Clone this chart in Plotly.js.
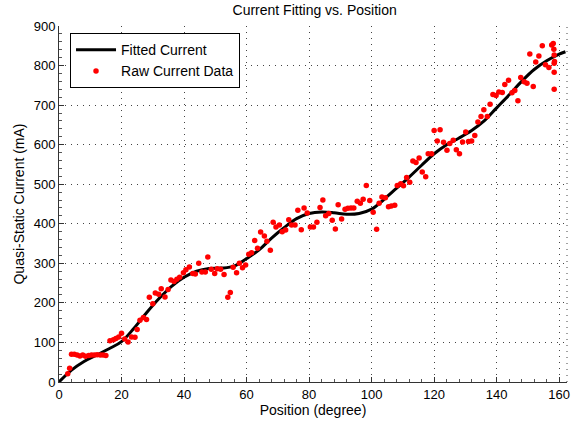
<!DOCTYPE html>
<html>
<head>
<meta charset="utf-8">
<script src="https://cdn.plot.ly/plotly-3.0.1.min.js"></script>
<style>
  html, body { margin: 0; padding: 0; background: #fff; }
  #chart { width: 571px; height: 426px; }
</style>
</head>
<body>
<div id="chart"></div>
<script>
// Measured current samples (position in degrees, current in mA)
const rawPosition = [
  2.8, 3.4, 4.0, 4.9, 5.8, 6.7, 7.6, 8.5, 9.5, 10.4, 11.3, 12.2, 13.2, 14.1, 15.0,
  16.3, 17.4, 18.2, 19.1, 20.0, 21.0, 22.1, 23.2, 24.3, 25.0, 25.9, 27.0, 28.0, 28.9, 30.0,
  30.8, 31.9, 32.7, 33.9, 34.9, 35.8, 36.8, 37.7, 38.6, 39.8, 40.6, 41.7, 42.8, 43.6, 44.7,
  45.7, 46.8, 47.6, 48.7, 49.8, 50.6, 51.7, 52.8, 54.0, 54.8, 55.7, 56.8, 57.7, 58.7, 59.7,
  60.7, 61.6, 62.6, 63.5, 64.5, 65.7, 66.5, 67.6, 68.5, 69.4, 70.5, 71.4, 72.5, 73.5, 74.4,
  75.5, 76.4, 77.5, 78.4, 79.4, 80.4, 81.4, 82.5, 83.5, 84.4, 85.3, 86.3, 87.4, 88.4, 89.3,
  90.4, 91.5, 92.4, 93.4, 94.3, 95.4, 96.4, 97.3, 98.3, 99.4, 100.5, 101.6, 102.4, 103.3, 104.4,
  105.4, 106.3, 107.4, 108.2, 109.3, 110.2, 111.2, 112.2, 113.2, 114.2, 115.2, 116.2, 117.3, 118.1, 119.2,
  120.0, 121.0, 121.9, 123.0, 124.1, 125.0, 126.1, 127.1, 128.1, 129.1, 130.1, 131.0, 132.0, 133.0, 134.0,
  135.0, 135.9, 137.0, 137.9, 138.8, 139.8, 140.7, 141.8, 142.6, 143.8, 144.9, 145.8, 146.8, 147.7, 148.8,
  149.7, 150.6, 151.7, 152.5, 153.5, 154.6, 155.6, 156.7, 157.6, 158.1, 158.3, 158.4, 158.5, 158.4, 158.4, 158.4
];
const rawCurrent = [
  21, 35, 70, 70, 68, 66, 68, 65, 67, 68, 68, 69, 68, 68, 67,
  104, 107, 110, 114, 123, 109, 101, 114, 113, 133, 156, 163, 158, 214, 198,
  225, 222, 236, 215, 234, 258, 254, 260, 265, 276, 284, 291, 274, 273, 300,
  278, 278, 316, 285, 274, 286, 285, 272, 214, 226, 290, 276, 300, 289, 296,
  323, 327, 358, 338, 379, 369, 356, 333, 404, 392, 397, 380, 384, 410, 397,
  397, 434, 385, 440, 427, 392, 392, 404, 441, 460, 420, 426, 409, 387, 448,
  412, 437, 439, 440, 440, 457, 452, 462, 497, 459, 429, 386, 452, 468, 466,
  443, 445, 447, 497, 501, 496, 517, 505, 559, 555, 566, 531, 519, 577, 577,
  636, 609, 638, 606, 586, 603, 611, 587, 577, 607, 632, 608, 609, 623, 657,
  671, 688, 671, 702, 727, 724, 733, 732, 752, 763, 731, 737, 711, 770, 759,
  755, 829, 747, 809, 824, 850, 802, 795, 852, 856, 841, 827, 810, 806, 783, 740
];

// Fitted current curve
const fitPosition = [0, 4, 8, 12, 16, 20, 24, 28, 32, 36, 40, 44, 48, 52, 56, 60, 64, 68, 72, 76,
  80, 84, 88, 92, 96, 100, 104, 108, 112, 116, 120, 124, 128, 132, 136, 140, 144, 148, 152, 156, 160, 162];
const fitCurrent = [0, 30, 52, 68, 84, 102, 136, 175, 211, 242, 265, 280, 287, 288, 293, 312, 334, 364, 390, 413,
  426, 430, 428, 424, 426, 437, 462, 490, 518, 548, 577, 600, 617, 636, 660, 693, 726, 760, 790, 812, 829, 835];

const xTicks = [0, 20, 40, 60, 80, 100, 120, 140, 160];
const yTicks = [0, 100, 200, 300, 400, 500, 600, 700, 800, 900];

const fontFamily = '"Liberation Sans", Arial, Helvetica, sans-serif';

const traces = [
  {
    x: fitPosition, y: fitCurrent,
    type: 'scatter', mode: 'lines',
    name: 'Fitted Current',
    line: { color: '#000000', width: 3, shape: 'spline', smoothing: 1 }
  },
  {
    x: rawPosition, y: rawCurrent,
    type: 'scatter', mode: 'markers',
    name: 'Raw Current Data',
    marker: { color: '#ff0000', size: 5.5 }
  }
];

const axisCommon = {
  showline: true, linecolor: '#333333', linewidth: 1,
  ticks: 'inside', ticklen: 5, tickcolor: '#333333',
  showgrid: true, gridcolor: '#444444', gridwidth: 1, griddash: '1px,5px',
  zeroline: false,
  tickfont: { family: fontFamily, size: 13, color: '#000' }
};

const layout = {
  width: 571, height: 426,
  margin: { l: 59, r: 4, t: 26, b: 44 },
  paper_bgcolor: '#ffffff', plot_bgcolor: '#ffffff',
  font: { family: fontFamily, size: 13, color: '#000' },
  title: {
    text: 'Current Fitting vs. Position',
    font: { family: fontFamily, size: 14, color: '#000' },
    x: 0.551, xanchor: 'center', y: 0.977, yanchor: 'middle'
  },
  xaxis: Object.assign({}, axisCommon, {
    range: [0, 162.5],
    tickvals: xTicks, ticktext: xTicks.map(String),
    minor: { ticks: 'inside', ticklen: 3, tickcolor: '#555555', dtick: 4, tick0: 0, showgrid: false },
    title: { text: 'Position (degree)', font: { family: fontFamily, size: 14 }, standoff: 3 }
  }),
  yaxis: Object.assign({}, axisCommon, {
    range: [0, 900],
    tickvals: yTicks, ticktext: yTicks.map(String),
    minor: { ticks: 'inside', ticklen: 3, tickcolor: '#555555', dtick: 20, tick0: 0, showgrid: false },
    title: { text: 'Quasi-Static Current (mA)', font: { family: fontFamily, size: 14 }, standoff: 5 }
  }),
  legend: {
    x: 0.0217, y: 0.98, xanchor: 'left', yanchor: 'top',
    bgcolor: '#ffffff', bordercolor: '#000000', borderwidth: 1,
    font: { family: fontFamily, size: 14, color: '#000' },
    itemwidth: 40, tracegroupgap: 0
  },
  shapes: [
    {
      type: 'line', xref: 'paper', yref: 'paper',
      x0: 1, x1: 1, y0: 0, y1: 1,
      line: { color: '#444444', width: 1, dash: '1px,5px' }
    }
  ],
  showlegend: true
};

Plotly.newPlot('chart', traces, layout, { displayModeBar: false, staticPlot: true });
</script>
</body>
</html>
